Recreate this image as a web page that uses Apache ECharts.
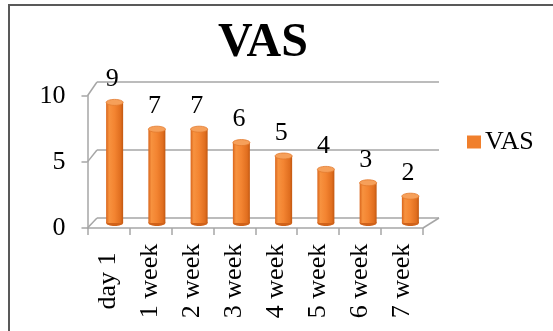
<!DOCTYPE html>
<html>
<head>
<meta charset="utf-8">
<script src="https://cdn.jsdelivr.net/npm/echarts@6/dist/echarts.min.js"></script>
<style>
  html, body { margin: 0; padding: 0; background: #ffffff; }
  #wrap { position: relative; width: 553px; height: 331px; overflow: hidden; }
  #frame { position: absolute; left: 8px; top: 4px; width: 600px; height: 400px;
           border-left: 2px solid #595959; border-top: 2px solid #595959; box-sizing: border-box; }
  #chart { position: absolute; left: 0; top: 0; width: 553px; height: 331px; }
</style>
</head>
<body>
<div id="wrap">
  <div id="frame"></div>
  <div id="chart"></div>
</div>
<script>
// VAS pain score over the follow-up period
const categories = ['day 1', '1 week', '2 week', '3 week', '4 week', '5 week', '6 week', '7 week'];
const vasValues = [9, 7, 7, 6, 5, 4, 3, 2];
const yMin = 0;
const yMax = 10;
const yStep = 5;

// pseudo-3D box: front plane (axes), back wall (gridlines), middle plane (bars)
const FRONT = { left: 87.5, top: 95.7, width: 335.5, height: 132.3 };
const BACK = { left: 97, top: 82, width: 342, height: 136 };
const MID = { left: 93.5, top: 89, width: 338, height: 134 };

const FONT = 'Liberation Serif, Times New Roman, serif';
const TEXT_SIZE = 26;
const GRID_GRAY = '#a6a6a6';
const BAR_ORANGE = '#f07f2c';

const chart = echarts.init(document.getElementById('chart'), null, { renderer: 'canvas' });

function valueAxis(gridIndex, show) {
  return {
    type: 'value', gridIndex: gridIndex, min: yMin, max: yMax, interval: yStep,
    axisLine: { show: show, lineStyle: { color: GRID_GRAY, width: 1.5 } },
    axisTick: { show: show, length: 6, lineStyle: { color: GRID_GRAY, width: 1.5 } },
    axisLabel: { show: show, margin: 22, color: '#000', fontFamily: FONT, fontSize: TEXT_SIZE },
    splitLine: { show: gridIndex === 1, lineStyle: { color: GRID_GRAY, width: 1.6 } }
  };
}

function categoryAxis(gridIndex, show) {
  return {
    type: 'category', gridIndex: gridIndex, data: categories, boundaryGap: true,
    axisLine: { show: show, lineStyle: { color: GRID_GRAY, width: 1.5 } },
    axisTick: { show: show, length: 7, lineStyle: { color: GRID_GRAY, width: 1.5 } },
    axisLabel: {
      show: show, rotate: 90, margin: 53, align: 'center', verticalAlign: 'middle',
      color: '#000', fontFamily: FONT, fontSize: TEXT_SIZE, interval: 0
    },
    splitLine: { show: false }
  };
}

function renderCylinder(params, api) {
  const idx = api.value(0);
  const val = api.value(1);
  const top = api.coord([idx, val]);
  const base = api.coord([idx, 0]);
  const w = 17;
  const ry = 3;
  const x0 = top[0] - w / 2;
  const bodyFill = new echarts.graphic.LinearGradient(0, 0, 1, 0, [
    { offset: 0, color: '#d9651b' },
    { offset: 0.18, color: '#f7923f' },
    { offset: 0.5, color: '#f38431' },
    { offset: 0.85, color: '#e06e1f' },
    { offset: 1, color: '#c25811' }
  ]);
  return {
    type: 'group',
    children: [
      { type: 'ellipse', shape: { cx: base[0], cy: base[1], rx: w / 2, ry: ry },
        style: { fill: '#d0621a' } },
      { type: 'rect', shape: { x: x0, y: top[1], width: w, height: base[1] - top[1] },
        style: { fill: bodyFill } },
      { type: 'ellipse', shape: { cx: top[0], cy: top[1], rx: w / 2, ry: ry },
        style: { fill: '#f6a05a', stroke: '#e2782c', lineWidth: 0.8 } },
      { type: 'text', x: top[0] - 2.5, y: top[1] - 23,
        style: { text: String(val), fill: '#000', font: TEXT_SIZE + 'px ' + FONT, align: 'center', verticalAlign: 'middle' } }
    ]
  };
}

chart.setOption({
  animation: false,
  backgroundColor: 'transparent',
  title: {
    text: 'VAS', left: 218, top: 20, padding: 0,
    textStyle: { fontFamily: FONT, fontWeight: 'bold', fontSize: 48, color: '#000' }
  },
  legend: {
    data: ['VAS'], left: 467, top: 129, padding: 0, itemGap: 6,
    itemWidth: 14, itemHeight: 13, icon: 'rect',
    textStyle: { fontFamily: FONT, fontSize: TEXT_SIZE, color: '#000', padding: [0, 0, 0, -1] }
  },
  grid: [
    Object.assign({ containLabel: false }, FRONT),
    Object.assign({ containLabel: false }, BACK),
    Object.assign({ containLabel: false }, MID)
  ],
  xAxis: [categoryAxis(0, true), categoryAxis(1, false), categoryAxis(2, false)],
  yAxis: [valueAxis(0, true), valueAxis(1, false), valueAxis(2, false)],
  series: [{
    name: 'VAS', type: 'custom', xAxisIndex: 2, yAxisIndex: 2,
    itemStyle: { color: BAR_ORANGE },
    renderItem: renderCylinder,
    data: vasValues.map(function (v, i) { return [i, v]; }),
    z: 5
  }]
});

// side edges of the box joining the front axis to the back wall
const lines = [];
const yLevels = [];
for (let v = yMin; v <= yMax; v += yStep) yLevels.push(v);
yLevels.forEach(function (v) {
  const fy = chart.convertToPixel({ yAxisIndex: 0 }, v);
  const by = chart.convertToPixel({ yAxisIndex: 1 }, v);
  lines.push([FRONT.left, fy, BACK.left, by]);
});
const fy0 = chart.convertToPixel({ yAxisIndex: 0 }, yMin);
const by0 = chart.convertToPixel({ yAxisIndex: 1 }, yMin);
lines.push([FRONT.left + FRONT.width, fy0, BACK.left + BACK.width, by0]);

chart.setOption({
  graphic: lines.map(function (l) {
    return { type: 'line', silent: true, z: 1,
      shape: { x1: l[0], y1: l[1], x2: l[2], y2: l[3] },
      style: { stroke: GRID_GRAY, lineWidth: 1.5 } };
  })
});
</script>
</body>
</html>
